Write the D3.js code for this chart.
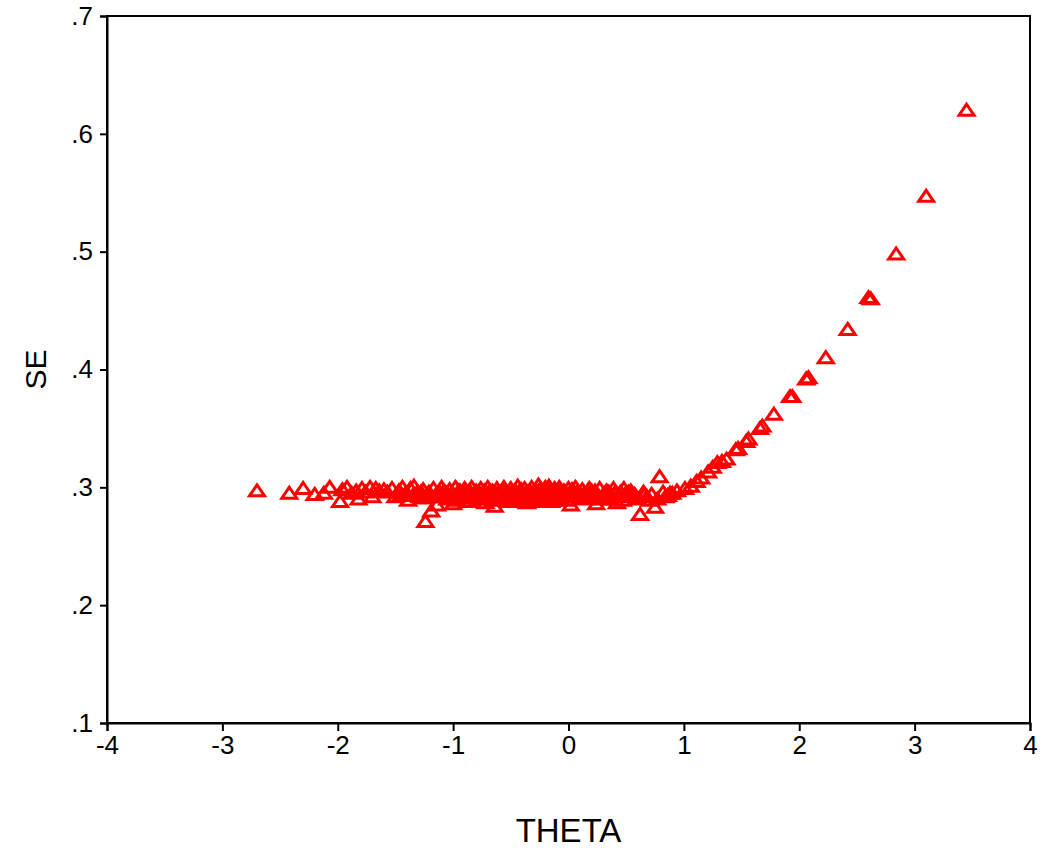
<!DOCTYPE html>
<html>
<head>
<meta charset="utf-8">
<script src="https://cdn.jsdelivr.net/npm/d3@7"></script>
<style>
  body { margin: 0; background: #fff; }
  svg { font-family: Arial, "Liberation Sans", sans-serif; }
</style>
</head>
<body>
<script>
"use strict"

// theta / standard error pairs
var theta = [
  -2.70, -2.42, -2.30, -2.20, -2.12, -2.07, -1.98, -1.96, -1.92, -1.88,
  -1.84, -1.82, -1.79, -1.76, -1.72, -1.70, -1.67, -1.64, -1.60, -1.57,
  -1.53, -1.50, -1.47, -1.44, -1.41, -1.39, -1.37, -1.34, -1.31, -1.29,
  -1.26, -1.24, -1.22, -1.19, -1.17, -1.14, -1.12, -1.10, -1.07, -1.05,
  -1.03, -1.00, -0.98, -0.96, -0.94, -0.92, -0.90, -0.88, -0.86, -0.84,
  -0.82, -0.80, -0.78, -0.76, -0.74, -0.72, -0.70, -0.68, -0.66, -0.64,
  -0.62, -0.60, -0.58, -0.56, -0.54, -0.52, -0.50, -0.48, -0.46, -0.44,
  -0.42, -0.40, -0.38, -0.36, -0.34, -0.32, -0.30, -0.28, -0.26, -0.24,
  -0.22, -0.20, -0.18, -0.16, -0.14, -0.12, -0.10, -0.08, -0.06, -0.04,
  -0.02,  0.00,  0.02,  0.04,  0.06,  0.09,  0.12,  0.15,  0.18,  0.21,
   0.24,  0.27,  0.30,  0.33,  0.36,  0.39,  0.42,  0.45,  0.48,  0.51,
   0.54,  0.57,  0.60,  0.62,  0.65,  0.68,  0.72,  0.75,  0.77,  0.79,
   0.82,  0.86,  0.90,  0.94,  1.01,  1.06,  1.11,  1.15,  1.21,  1.25,
   1.29,  1.33,  1.37,  1.45,  1.47,  1.54,  1.56,  1.66,  1.68,  1.78,
   1.92,  1.94,  2.06,  2.08,  2.23,  2.42,  2.60,  2.62,  2.84,  3.10,
   3.45,
  -1.28, -1.16, -1.08, -0.99, -0.91, -0.83, -0.77, -0.69, -0.63, -0.57,
  -0.51, -0.45, -0.41, -0.37, -0.33, -0.29, -0.25, -0.23, -0.21, -0.19,
  -0.17, -0.13, -0.09, -0.05, -0.01,  0.03,  0.07,  0.11,  0.17,  0.23,
   0.29,  0.35,  0.44,  0.52,  0.58, -0.53, -0.39, -0.31, -0.27, -0.15,
  -0.35, -0.43, -0.47, -0.65, -0.71, -0.87, -0.97, -1.09, -0.27, -0.21,
   0.70,  0.66,  0.84,  0.88,  0.47,  0.40,
  -1.45, -1.35, -1.27, -1.21, -1.13, -1.06, -1.01, -0.95, -0.89, -0.85,
  -0.79, -0.75, -0.73, -0.67, -0.61, -0.59, -0.55, -0.49, -0.43, -0.40,
  -0.36, -0.32, -0.28, -0.24, -0.20, -0.16, -0.11, -0.07, -0.03,  0.01,
   0.05,  0.08,  0.13,  0.16,  0.20,  0.25,  0.31,  0.37,  0.41,  0.49
];

var se = [
  .297, .295, .299, .294, .295, .300, .288, .298, .300, .295,
  .297, .290, .299, .296, .300, .292, .299, .297, .298, .296,
  .299, .292, .297, .300, .295, .289, .299, .301, .296, .292,
  .298, .271, .294, .280, .299, .285, .296, .300, .293, .290,
  .298, .286, .300, .294, .297, .291, .299, .295, .288, .300,
  .293, .297, .290, .299, .295, .287, .300, .292, .297, .284,
  .299, .294, .290, .300, .296, .288, .299, .293, .297, .301,
  .290, .295, .299, .287, .293, .300, .290, .297, .302, .288,
  .295, .300, .291, .297, .289, .299, .294, .300, .292, .297,
  .289, .299, .285, .296, .300, .292, .298, .290, .299, .294,
  .286, .299, .293, .297, .290, .299, .287, .296, .299, .292,
  .297, .294, .290, .277, .296, .292, .294, .283, .290, .309,
  .296, .293, .295, .297, .299, .301, .305, .308, .313, .317,
  .321, .322, .324, .332, .333, .339, .341, .350, .352, .362,
  .377, .377, .392, .393, .410, .434, .461, .460, .498, .547,
  .620,
  .296, .292, .297, .293, .296, .291, .295, .296, .292, .297,
  .292, .294, .298, .292, .296, .293, .298, .291, .297, .293,
  .301, .295, .291, .295, .293, .298, .294, .291, .295, .297,
  .290, .296, .293, .296, .293, .289, .289, .288, .289, .288,
  .290, .291, .289, .289, .290, .292, .289, .294, .292, .290,
  .289, .294, .292, .295, .289, .295,
  .294, .293, .291, .296, .292, .295, .291, .297, .293, .296,
  .293, .292, .297, .294, .296, .291, .293, .296, .296, .292,
  .296, .294, .293, .292, .294, .292, .296, .297, .296, .295,
  .292, .297, .294, .292, .297, .293, .295, .292, .295, .294
];

var xTicks = [-4, -3, -2, -1, 0, 1, 2, 3, 4];
var yTicks = [.1, .2, .3, .4, .5, .6, .7];

var width = 1044, height = 850;
var margin = {left: 107, right: 14, top: 16, bottom: 127};

var svg = d3.select("body").append("svg")
    .attr("width", width)
    .attr("height", height);

var x = d3.scaleLinear().domain([-4, 4]).range([margin.left, width - margin.right]);
var y = d3.scaleLinear().domain([.1, .7]).range([height - margin.bottom, margin.top]);

// plot frame
svg.append("rect")
    .attr("x", x(-4))
    .attr("y", y(.7))
    .attr("width", x(4) - x(-4))
    .attr("height", y(.1) - y(.7))
    .attr("fill", "none")
    .attr("stroke", "#000")
    .attr("stroke-width", 2);

// SPSS style labels: plain hyphen, no leading zero
var xFmt = function(d) { return String(d); };
var yFmt = function(d) { return d3.format(".1f")(d).replace(/^0/, ""); };

var xAxis = svg.append("g")
    .attr("transform", "translate(0," + y(.1) + ")")
    .call(d3.axisBottom(x).tickValues(xTicks).tickSize(8).tickPadding(5).tickFormat(xFmt));

var yAxis = svg.append("g")
    .attr("transform", "translate(" + x(-4) + ",0)")
    .call(d3.axisLeft(y).tickValues(yTicks).tickSize(7).tickPadding(7).tickFormat(yFmt));

[xAxis, yAxis].forEach(function(a) {
  a.attr("font-size", 26).attr("font-family", "Arial, 'Liberation Sans', sans-serif");
  a.select(".domain").attr("stroke-width", 2);
  a.selectAll(".tick line").attr("stroke-width", 2);
  a.selectAll(".tick text").attr("fill", "#000");
});

// wide open triangle like the SPSS marker
var triangle = {
  draw: function(ctx, size) {
    ctx.moveTo(0, -6);
    ctx.lineTo(7.5, 5);
    ctx.lineTo(-7.5, 5);
    ctx.closePath();
  }
};

var points = theta.map(function(t, i) { return {theta: t, se: se[i]}; });

svg.append("g").selectAll("path")
    .data(points)
    .enter().append("path")
    .attr("transform", function(d) { return "translate(" + x(d.theta) + "," + y(d.se) + ")"; })
    .attr("d", d3.symbol().type(triangle))
    .attr("fill", "none")
    .attr("stroke", "#ff0000")
    .attr("stroke-width", 3);

svg.append("text")
    .attr("x", x(0))
    .attr("y", 842)
    .attr("text-anchor", "middle")
    .attr("font-size", 33)
    .text("THETA");

svg.append("text")
    .attr("transform", "translate(46," + y(.4) + ") rotate(-90)")
    .attr("text-anchor", "middle")
    .attr("font-size", 30)
    .text("SE");
</script>
</body>
</html>
